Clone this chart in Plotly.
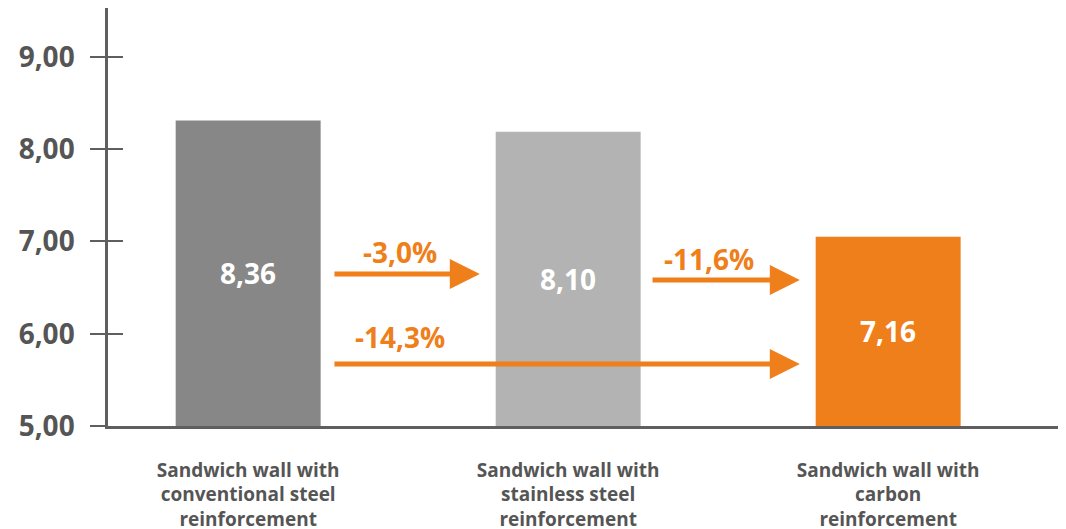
import plotly.graph_objects as go

# ---- data ----
categories = [
    "Sandwich wall with<br>conventional steel<br>reinforcement",
    "Sandwich wall with<br>stainless steel<br>reinforcement",
    "Sandwich wall with<br>carbon<br>reinforcement",
]
bar_heights = [8.31, 8.19, 7.05]          # heights as drawn
bar_labels = ["8,36", "8,10", "7,16"]       # printed values
bar_colors = ["#878787", "#b2b3b2", "#ef7f1a"]
y_ticks = [5, 6, 7, 8, 9]

# change arrows: (from category, to category, label)
change_labels = ["-3,0%", "-11,6%", "-14,3%"]
arrow_tail_x = [0.265, 1.259, 0.265]
arrow_tip_x = [0.724, 1.724, 1.724]
arrow_y = [6.648, 6.583, 5.672]
label_x = [0.474, 1.440, 0.474]
label_y = [6.886, 6.810, 5.965]

Y_MIN, Y_MAX = 5, 9.53
ORANGE = "#ef7f1a"
AXIS = "#5f5f5f"
TEXT = "#555555"
FONT = "Open Sans"
BIG = 28

fig = go.Figure()
fig.add_trace(go.Bar(
    x=categories, y=bar_heights, marker_color=bar_colors,
    marker_line_width=0, width=0.453, hoverinfo="skip",
))
# invisible trace for the second (overlay) y axis carrying inside ticks
fig.add_trace(go.Scatter(x=[categories[0]], y=[Y_MIN], yaxis="y2",
                         mode="markers", marker_opacity=0, hoverinfo="skip",
                         showlegend=False))

annotations = []
for i, (h, lab) in enumerate(zip(bar_heights, bar_labels)):
    annotations.append(dict(
        x=i, y=(Y_MIN + h) / 2, xref="x", yref="y", text=lab,
        showarrow=False, font=dict(family=FONT, size=BIG, color="white", weight="bold"),
    ))
for tx, hx, ay, lx, ly, lab in zip(arrow_tail_x, arrow_tip_x, arrow_y, label_x, label_y, change_labels):
    annotations.append(dict(
        x=hx, y=ay, ax=tx, ay=ay, xref="x", yref="y", axref="x", ayref="y",
        text="", showarrow=True, arrowhead=2, arrowsize=1.2, arrowwidth=5,
        arrowcolor=ORANGE, standoff=0, startstandoff=0,
    ))
    annotations.append(dict(
        x=lx, y=ly, xref="x", yref="y", text=lab, showarrow=False,
        font=dict(family=FONT, size=BIG, color=ORANGE, weight="bold"),
    ))

fig.update_layout(
    width=1066, height=529,
    margin=dict(l=100, r=14, t=0, b=111),
    paper_bgcolor="white", plot_bgcolor="white",
    showlegend=False, separators=",.",
    bargap=0.5,
    xaxis=dict(
        type="category", range=[-0.438, 2.537], automargin=False,
        showline=True, linecolor=AXIS, linewidth=2.5,
        showgrid=False, zeroline=False, ticks="",
        tickfont=dict(family=FONT, size=19, color=TEXT, weight="bold"),
        ticklabelstandoff=25,
    ),
    yaxis=dict(
        range=[Y_MIN, Y_MAX], tickvals=y_ticks, tickformat=".2f", automargin=False,
        showline=True, linecolor=AXIS, linewidth=2.5,
        ticks="outside", ticklen=15, tickwidth=2, tickcolor=AXIS,
        showgrid=False, zeroline=False,
        tickfont=dict(family=FONT, size=BIG, color=TEXT, weight="bold"),
        ticklabelstandoff=10,
    ),
    yaxis2=dict(
        overlaying="y", side="left", range=[Y_MIN, Y_MAX], tickvals=y_ticks,
        ticks="inside", ticklen=15, tickwidth=2, tickcolor=AXIS, automargin=False,
        showticklabels=False, showgrid=False, zeroline=False, showline=False,
    ),
    annotations=annotations,
)

fig.write_html("out.html")
